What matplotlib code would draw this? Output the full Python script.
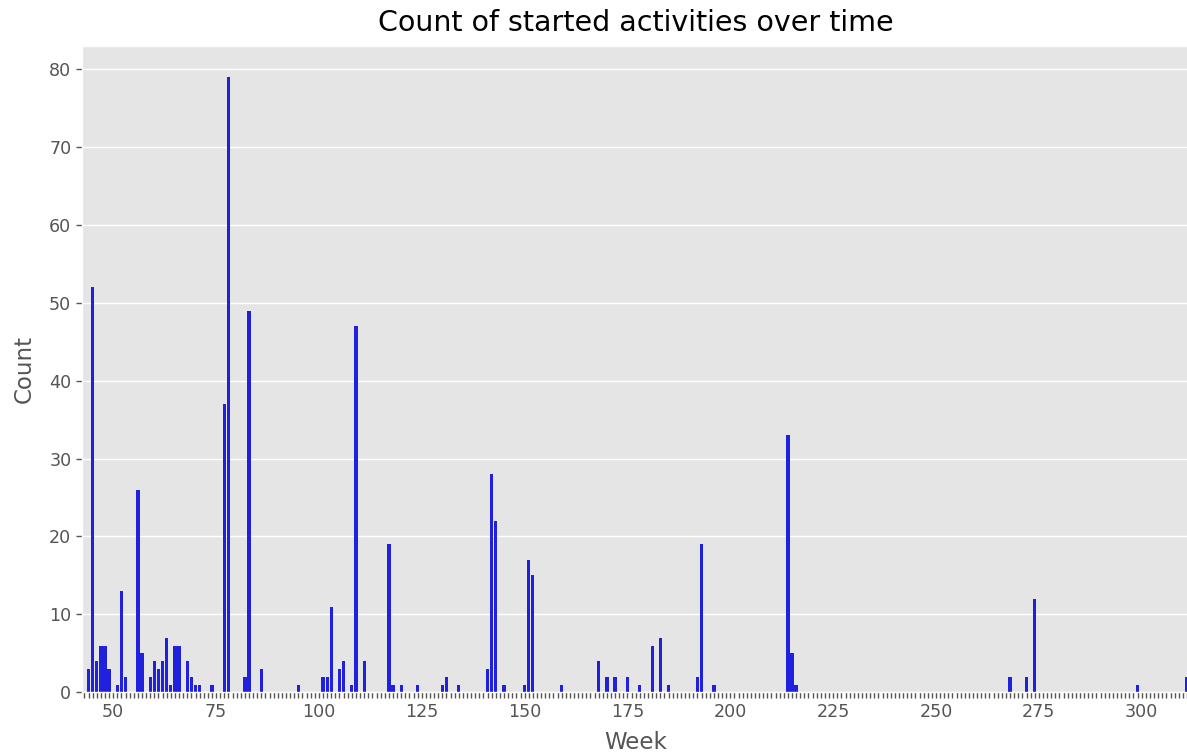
import matplotlib
matplotlib.use('Agg')
import matplotlib.pyplot as plt

# weekly counts of started activities (weeks without activity are 0)
weeks = [44, 45, 46, 47, 48, 49, 51, 52, 53, 56, 57, 59, 60, 61, 62, 63, 64, 65, 66,
         68, 69, 70, 71, 74, 77, 78, 82, 83, 86, 95, 101, 102, 103, 105, 106, 108,
         109, 111, 117, 118, 120, 124, 130, 131, 134, 141, 142, 143, 145, 150, 151,
         152, 159, 168, 170, 172, 175, 178, 181, 183, 185, 192, 193, 196, 214, 215,
         216, 268, 272, 274, 299, 311]
counts = [3, 52, 4, 6, 6, 3, 1, 13, 2, 26, 5, 2, 4, 3, 4, 7, 1, 6, 6,
          4, 2, 1, 1, 1, 37, 79, 2, 49, 3, 1, 2, 2, 11, 3, 4, 1,
          47, 4, 19, 1, 1, 1, 1, 2, 1, 3, 28, 22, 1, 1, 17,
          15, 1, 4, 2, 2, 2, 1, 6, 7, 1, 2, 19, 1, 33, 5,
          1, 2, 2, 12, 1, 2]
first_week = 43
last_week = 311

plt.style.use('ggplot')
plt.rcParams['font.size'] = 12.6

fig = plt.figure(figsize=(11.87, 7.53), dpi=100)
ax = fig.add_axes([0.0694, 0.0806, 0.9323, 0.8583])

ax.bar(weeks, counts, width=0.8, color='#2020DF')

all_weeks = list(range(first_week, last_week + 1))
ax.set_xticks(all_weeks)
ax.set_xticklabels([str(w) if w % 25 == 0 else '' for w in all_weeks])
ax.set_xlim(first_week - 0.5, last_week + 0.5)
ax.set_yticks(range(0, 81, 10))
ax.xaxis.grid(False)
ax.tick_params(length=4.4, width=1.0)
for line in ax.get_ygridlines():
    line.set_linewidth(1.0)

ax.set_title("Count of started activities over time", fontsize=20.5, pad=10.5)
ax.set_xlabel("Week", fontsize=16.5, labelpad=7)
ax.set_ylabel("Count", fontsize=16.5, labelpad=10)

fig.savefig('out.png', dpi=100)
